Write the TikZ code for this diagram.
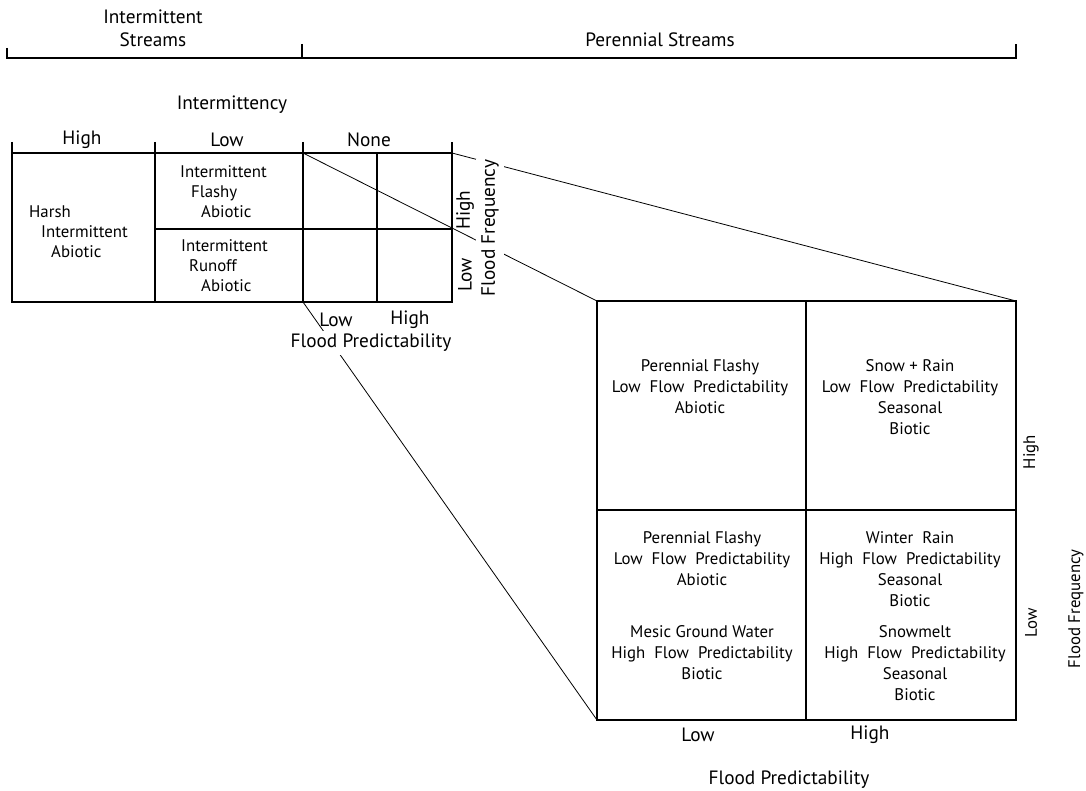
\documentclass[tikz,border=0pt]{standalone}
\usepackage{fontspec}
\setmainfont{PT Sans}

\begin{document}
\begin{tikzpicture}[x=1pt,y=-1pt,
  lbl/.style={font=\fontsize{19.3}{23}\selectfont,inner sep=1pt,align=center},
  cell/.style={font=\fontsize{16.8}{21}\selectfont,inner sep=1pt,align=center},
  mask/.style={fill=white},
  grid/.style={line width=2.2pt},
  bracket/.style={line width=1.5pt},
  zoomline/.style={line width=0.8pt}]
  \useasboundingbox (0,0) rectangle (1086,791);

  % Accolade du haut
  \draw[bracket] (7,48) -- (7,58) -- (1016,58) -- (1016,44);
  \draw[bracket] (302,44) -- (302,58);
  \node[lbl] (intstreams) at (153,28.5) {Intermittent\\Streams};
  \node[lbl] (perstreams) at (660,40) {Perennial Streams};

  % Petit tableau
  \node[lbl] (intermittency) at (232,105) {Intermittency};
  \node[lbl] (hdrhigh) at (82,140) {High};
  \node[lbl] (hdrlow) at (227,140) {Low};
  \node[lbl] (hdrnone) at (369,140) {None};
  \draw[grid] (12,142) -- (12,302) -- (452,302) -- (452,142);
  \draw[grid] (12,153) -- (452,153);
  \draw[grid] (155,142) -- (155,302);
  \draw[grid] (303,142) -- (303,302);
  \draw[grid] (377,153) -- (377,302);
  \draw[grid] (155,229) -- (452,229);
  \coordinate (none-nw) at (303,153);
  \coordinate (none-ne) at (452,153);
  \coordinate (none-sw) at (303,302);

  % Grand tableau
  \draw[grid,line width=2pt] (597,301) rectangle (1016,720);
  \draw[grid,line width=2pt] (806,301) -- (806,720);
  \draw[grid,line width=2pt] (597,510) -- (1016,510);
  \coordinate (big-nw) at (597,301);
  \coordinate (big-ne) at (1016,301);
  \coordinate (big-sw) at (597,720);

  % Lignes de zoom
  \draw[zoomline] (none-nw) -- (big-nw);
  \draw[zoomline] (none-ne) -- (big-ne);
  \draw[zoomline] (none-sw) -- (big-sw);

  % Textes du petit tableau
  \node[cell,align=left,anchor=west] (harsh) at (28,232)
    {Harsh\\[-1pt]\hspace*{12pt}Intermittent\\[-1pt]\hspace*{22pt}Abiotic};
  \node[cell,align=left,anchor=west] (intflashy) at (179,192)
    {Intermittent\\[-1pt]\hspace*{11pt}Flashy\\[-1pt]\hspace*{21pt}Abiotic};
  \node[cell,align=left,anchor=west] (intrunoff) at (180,266)
    {Intermittent\\[-1pt]\hspace*{8pt}Runoff\\[-1pt]\hspace*{20pt}Abiotic};
  \node[lbl,rotate=90] (sfhigh) at (465,210) {High};
  \node[lbl,rotate=90] (sflow) at (465,275) {Low};
  \node[lbl,mask,rotate=90,inner ysep=5pt] (sfreq) at (490,228) {Flood Frequency};
  \node[lbl] (splow) at (336,320) {Low};
  \node[lbl] (sphigh) at (410,320) {High};
  \node[lbl,mask,inner ysep=3pt] (spred) at (371,343) {Flood Predictability};

  % Textes du grand tableau
  \node[cell] (cellhl) at (700,387)
    {Perennial Flashy\\Low\ \ Flow\ \ Predictability\\Abiotic};
  \node[cell] (cellhh) at (910,397.5)
    {Snow + Rain\\Low\ \ Flow\ \ Predictability\\Seasonal\\Biotic};
  \node[cell] (cellll) at (702,559)
    {Perennial Flashy\\Low\ \ Flow\ \ Predictability\\Abiotic};
  \node[cell] (celllm) at (702,653)
    {Mesic Ground Water\\High\ \ Flow\ \ Predictability\\Biotic};
  \node[cell] (celllw) at (910,569.5)
    {Winter\ \ Rain\\High\ \ Flow\ \ Predictability\\Seasonal\\Biotic};
  \node[cell] (cellls) at (915,663.5)
    {Snowmelt\\High\ \ Flow\ \ Predictability\\Seasonal\\Biotic};
  \node[cell,rotate=90] (bfhigh) at (1031,452) {High};
  \node[cell,rotate=90] (bflow) at (1031,623) {Low};
  \node[cell,rotate=90] (bfreq) at (1076,609) {Flood Frequency};
  \node[lbl] (bplow) at (698,735) {Low};
  \node[lbl] (bphigh) at (870,735) {High};
  \node[lbl] (bpred) at (789,780) {Flood Predictability};
\end{tikzpicture}
\end{document}
